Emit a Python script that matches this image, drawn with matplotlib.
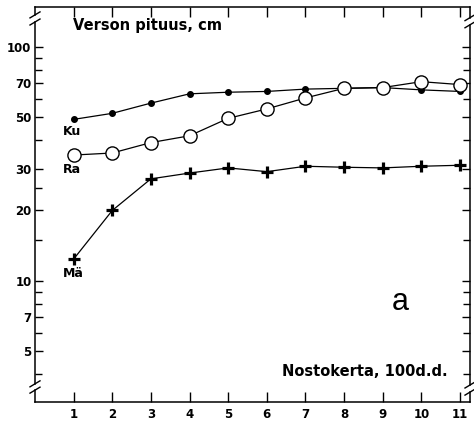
import numpy as np
import matplotlib
matplotlib.use('Agg')
import matplotlib.pyplot as plt
from matplotlib.ticker import FixedLocator, NullFormatter

# data (shoot length, cm, per lifting time)
nosto = [1, 2, 3, 4, 5, 6, 7, 8, 9, 10, 11]
ku = [49, 52, 57.5, 63, 64, 64.5, 66, 66.5, 67, 65.5, 64.5]
ra = [34.5, 35.2, 39, 41.7, 49.5, 54.3, 60.5, 66.5, 67, 71, 69]
ma = [12.4, 20, 27.3, 28.9, 30.4, 29.3, 30.9, 30.6, 30.4, 30.9, 31.2]

yticks = [5, 7, 10, 20, 30, 50, 70, 100]
yminor = [4, 6, 8, 9, 15, 25, 40, 60, 80, 90]

fig = plt.figure(figsize=(4.74, 4.25), dpi=100)
ax = fig.add_axes([35/474, 1-402/425, 435/474, 395/425])

line = {'color': 'k', 'linewidth': 0.9}
ax.plot(nosto, ku, marker='o', markersize=4, **line)
ax.plot(nosto, ra, marker='o', markersize=9.5, markerfacecolor='white',
        markeredgecolor='k', markeredgewidth=1.0, **line)
ax.plot(nosto, ma, marker='+', markersize=8, markeredgewidth=2.3, **line)

ax.set_yscale('log')
ax.set_xlim(0, 11.26)
ax.set_ylim(3.04, 148)
ax.set_xticks(nosto)
ax.set_xticklabels([str(n) for n in nosto])
ax.yaxis.set_major_locator(FixedLocator(yticks))
ax.yaxis.set_minor_locator(FixedLocator(yminor))
ax.set_yticklabels([str(v) for v in yticks])
ax.yaxis.set_minor_formatter(NullFormatter())

ax.tick_params(which='both', direction='in', top=True, right=True,
               width=1.0, color='k')
ax.tick_params(axis='x', length=7, pad=4, labelsize=8.5)
ax.tick_params(axis='y', which='major', length=6, pad=2.5, labelsize=8.5)
ax.tick_params(axis='y', which='minor', length=5)
for lab in ax.get_xticklabels() + ax.get_yticklabels():
    lab.set_fontweight('bold')

# spines with breaks
ax.spines['left'].set_visible(False)
ax.spines['right'].set_visible(False)
ax.spines['top'].set_linewidth(1.1)
ax.spines['bottom'].set_linewidth(1.1)
tr = ax.transAxes
dx = 5/435
dy = 3/395
for xs, gaps in [(0, [(0.030, 0.046), (0.962, 0.98)]),
                 (1, [(0.025, 0.043), (0.955, 0.973)])]:
    segs = [(0, gaps[0][0]), (gaps[0][1], gaps[1][0]), (gaps[1][1], 1)]
    for y0, y1 in segs:
        ax.plot([xs, xs], [y0, y1], color='k', lw=1.1, transform=tr,
                clip_on=False)
    for g in gaps:
        for yb in g:
            ax.plot([xs-dx, xs+dx], [yb-dy, yb+dy], color='k', lw=1.0,
                    transform=tr, clip_on=False)

# texts
ax.text(0.087, 0.954, 'Verson pituus, cm', transform=tr, fontsize=10.5,
        fontweight='bold', va='center', ha='left')
ax.text(0.949, 0.076, 'Nostokerta, 100d.d.', transform=tr, fontsize=10.5,
        fontweight='bold', va='center', ha='right')
ax.text(0.839, 0.253, 'a', transform=tr, fontsize=22,
        family='Liberation Sans', va='center', ha='center')
ax.text(0.95, 43.5, 'Ku', fontsize=9, fontweight='bold', ha='center',
        va='center')
ax.text(0.95, 29.8, 'Ra', fontsize=9, fontweight='bold', ha='center',
        va='center')
ax.text(0.98, 10.8, 'Mä', fontsize=9, fontweight='bold', ha='center',
        va='center')

fig.savefig('out.png', dpi=100)
